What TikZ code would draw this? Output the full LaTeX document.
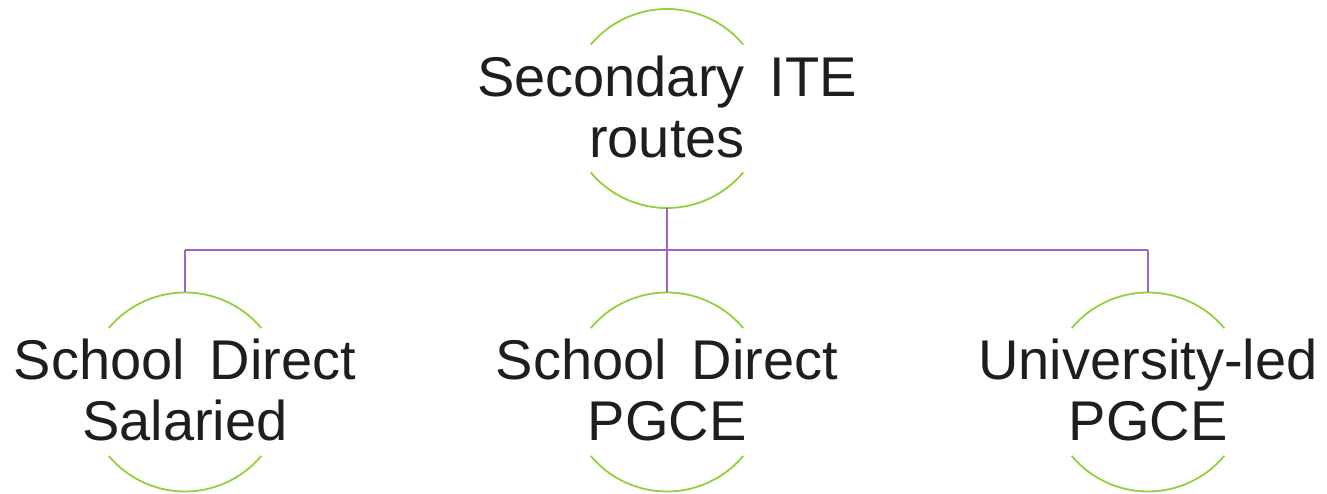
\documentclass[tikz,border=0pt]{standalone}
\usepackage{fontspec}
\setmainfont{Liberation Sans}
\definecolor{arcgreen}{RGB}{146,208,60}
\definecolor{linkpurple}{RGB}{160,100,190}
\definecolor{txt}{RGB}{30,30,30}
\newcommand\bigtxt{\fontsize{56}{61}\selectfont\spaceskip 25pt\relax}
\begin{document}
\begin{tikzpicture}[x=1pt,y=1pt,
  hub/.style={circle,draw=none,minimum size=199pt,inner sep=0pt},
  label/.style={align=center,text=txt,inner sep=0pt,font=\bigtxt},
  arcsty/.style={draw=arcgreen,line width=1.8pt},
  link/.style={draw=linkpurple,line width=1.8pt}]
\useasboundingbox (0,0) rectangle (1327,494);
% hubs
\node[hub] (t) at (667,385.5) {};
\node[hub] (l) at (185,102) {};
\node[hub] (m) at (667,102) {};
\node[hub] (r) at (1148,102) {};
% texts
\node[label] (tt) at (667,387) {Secondary ITE\\routes};
\node[label] (lt) at (185,104.5) {School Direct\\Salaried};
\node[label] (mt) at (667,104.5) {School Direct\\PGCE};
\node[label] (rt) at (1148,104.5) {University-led\\PGCE};
% arcs
\foreach \c in {t,l,m,r}{
  \draw[arcsty] ([shift={(40:99.5pt)}]\c.center) arc (40:140:99.5pt);
  \draw[arcsty] ([shift={(220:99.5pt)}]\c.center) arc (220:320:99.5pt);
}
% connectors
\coordinate (bar) at (667,244);
\draw[link] (t.south) -- (bar);
\draw[link] (bar -| l.north) -- (bar -| r.north);
\draw[link] (bar -| l.north) -- (l.north);
\draw[link] (bar) -- (m.north);
\draw[link] (bar -| r.north) -- (r.north);
\end{tikzpicture}
\end{document}
